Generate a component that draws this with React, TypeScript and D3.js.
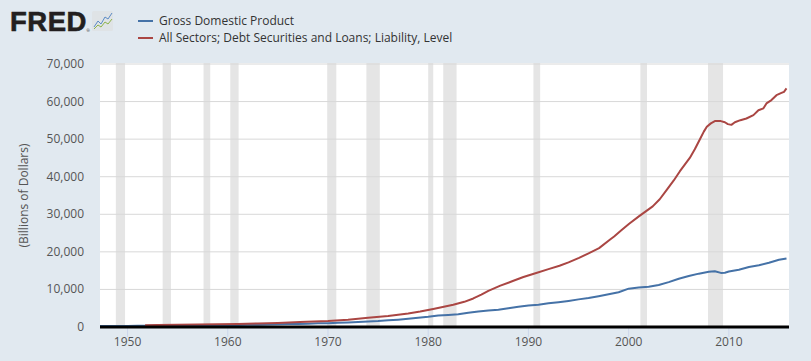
import React from "react";
import * as d3 from "d3";

const gdpYears = [1947.25,1948,1949,1950,1951,1952,1953,1954,1955,1956,1957,1958,1959,1960,1961,1962,1963,1964,1965,1966,1967,1968,1969,1970,1971,1972,1973,1974,1975,1976,1977,1978,1979,1980,1981,1982,1983,1984,1985,1986,1987,1988,1989,1990,1991,1992,1993,1994,1995,1996,1997,1998,1999,2000,2001,2002,2003,2004,2005,2006,2007,2008,2008.6,2009.2,2009.6,2010,2011,2012,2013,2014,2015,2015.75];
const gdpValues = [245,265,272,285,330,355,385,385,410,430,455,460,505,535,545,590,620,665,715,785,825,885,965,1030,1110,1210,1350,1450,1580,1770,1950,2180,2450,2720,3050,3200,3400,3770,4100,4370,4620,4980,5380,5750,5930,6300,6600,6950,7350,7700,8200,8700,9250,10200,10500,10700,11200,11950,12850,13550,14200,14700,14850,14400,14450,14750,15250,15950,16450,17100,17900,18250];

const debtYears = [1951.75,1953,1955,1957,1959,1961,1963,1965,1967.2,1970,1972,1974,1976,1978,1979.2,1980.5,1982.5,1983.6,1984.5,1985.3,1986,1987.2,1988.5,1989.5,1990.7,1992,1993.1,1994,1995.05,1996,1997.05,1998.15,1998.55,1999.3,2000.05,2001.05,2002.4,2003.1,2003.8,2004.5,2005.1,2006.1,2006.6,2007.1,2007.5,2007.8,2008.2,2008.6,2009.2,2009.6,2009.9,2010.25,2010.6,2011.15,2011.75,2012.45,2012.95,2013.45,2013.75,2014.25,2014.75,2015.25,2015.5,2015.75];
const debtValues = [490,540,610,680,740,810,920,1060,1300,1600,1950,2450,2900,3600,4100,4800,5900,6700,7600,8600,9600,11000,12300,13300,14300,15400,16300,17200,18400,19600,21000,23300,24100,25800,27500,29500,32100,34000,36500,39000,41400,45000,47300,49900,52000,53300,54200,54800,54800,54500,54000,53800,54500,55050,55500,56400,57700,58200,59500,60400,61700,62300,62600,63500];

const recessionStarts = [1948.83,1953.5,1957.58,1960.25,1969.92,1973.83,1980.0,1981.5,1990.5,2001.17,2007.92];
const recessionEnds = [1949.75,1954.33,1958.25,1961.08,1970.83,1975.17,1980.5,1982.83,1991.17,2001.83,2009.42];

const yTicks = [0,10000,20000,30000,40000,50000,60000,70000];
const xTicks = [1950,1960,1970,1980,1990,2000,2010];

const seriesNames = ["Gross Domestic Product","All Sectors; Debt Securities and Loans; Liability, Level"];
const seriesColors = ["#4572a7","#aa4643"];

export default function App() {
  const W = 811, H = 361;
  const left = 100, right = 789, top = 64, bottom = 327;
  const x = d3.scaleLinear().domain([1947.25, 2016.0]).range([left, right]);
  const y = d3.scaleLinear().domain([0, 70000]).range([bottom, top]);
  const line = d3.line<[number, number]>().x(d => x(d[0])).y(d => y(d[1]));
  const gdp = gdpYears.map((t, i) => [t, gdpValues[i]] as [number, number]);
  const debt = debtYears.map((t, i) => [t, debtValues[i]] as [number, number]);
  const fmt = d3.format(",");
  const font = "'Open Sans', 'Noto Sans', sans-serif";

  return (
    <svg width={W} height={H} style={{ position: "absolute", left: 0, top: 0, fontFamily: font }}>
      <rect x={0} y={0} width={W} height={H} fill="#e1e9f0" />
      {/* Logo */}
      <text x={10} y={31} fontFamily="'Liberation Sans', Arial, sans-serif" fontWeight="bold" fontSize={27.5} fill="#231f20" stroke="#231f20" strokeWidth={0.6} letterSpacing={0.5}>FRED</text>
      <text x={86.5} y={32} fontSize={4} fill="#231f20">®</text>
      <rect x={92} y={11} width={21} height={20} rx={1.5} fill="#dfe3e6" />
      <polyline points="94,27 98,21 101,24 105,17 108,19 112,13" fill="none" stroke="#5b8bc6" strokeWidth={1} />
      <polyline points="94,29 98,25 101,27 105,22 108,24 112,19" fill="none" stroke="#8cb34a" strokeWidth={1} />
      {/* Legend */}
      {seriesNames.map((n, i) => (
        <g key={n}>
          <line x1={138} x2={153} y1={21 + i * 17} y2={21 + i * 17} stroke={seriesColors[i]} strokeWidth={2} />
          <text x={159} y={25 + i * 17} fontSize={12} fill="#333">{n}</text>
        </g>
      ))}
      {/* Plot */}
      <rect x={left} y={top - 1} width={right - left} height={bottom - top + 1} fill="#ffffff" />
      {recessionStarts.map((s, i) => (
        <rect key={s} x={x(s)} y={top - 1} width={x(recessionEnds[i]) - x(s)} height={bottom - top + 1} fill="#e5e5e5" />
      ))}
      {yTicks.map(t => (
        <g key={t}>
          {t > 0 && <line x1={left} x2={right} y1={y(t)} y2={y(t)} stroke="#d8d8d8" strokeWidth={1} />}
          <text x={84} y={y(t) + 4} textAnchor="end" fontSize={12} fill="#555">{fmt(t)}</text>
        </g>
      ))}
      <text transform={`translate(28,${(top + bottom) / 2}) rotate(-90)`} textAnchor="middle" fontSize={12} fill="#555">(Billions of Dollars)</text>
      <defs>
        <clipPath id="plotclip"><rect x={left} y={top - 5} width={right - left} height={bottom - top + 10} /></clipPath>
      </defs>
      <g clipPath="url(#plotclip)">
        <path d={line(gdp) || ""} fill="none" stroke={seriesColors[0]} strokeWidth={2} strokeLinejoin="round" />
        <path d={line(debt) || ""} fill="none" stroke={seriesColors[1]} strokeWidth={2} strokeLinejoin="round" />
      </g>
      {xTicks.map(t => (
        <g key={t}>
          <line x1={x(t)} x2={x(t)} y1={bottom} y2={bottom + 10} stroke="#ccd6eb" strokeWidth={1} />
          <text x={x(t)} y={bottom + 19} textAnchor="middle" fontSize={12} fill="#555">{t}</text>
        </g>
      ))}
      <line x1={left} x2={right} y1={bottom} y2={bottom} stroke="#000" strokeWidth={3} />
    </svg>
  );
}
